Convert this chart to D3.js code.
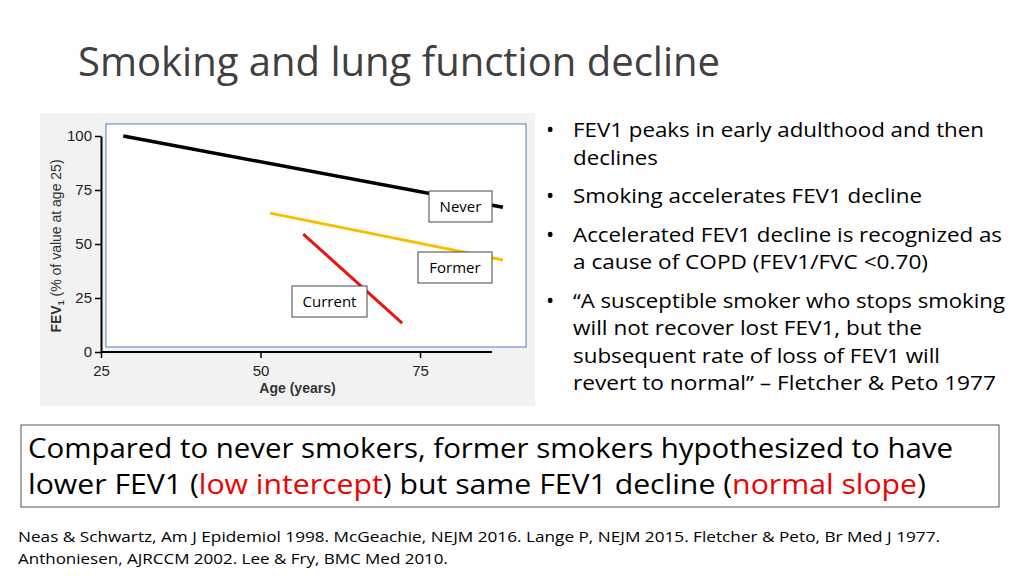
<!DOCTYPE html><html><head><meta charset="utf-8"><script src="https://cdn.jsdelivr.net/npm/d3@7"></script>
<style>body{margin:0;background:#fff}svg{display:block}</style></head><body><svg id="c" width="1024" height="576"></svg>
<script>
const xTicks=[25,50,75];
const yTicks=[0,25,50,75,100];
const neverAge=[28.5,88],neverVal=[100,67];
const formerAge=[51.5,88],formerVal=[64.3,42.6];
const currentAge=[56.7,72.2],currentVal=[54.6,13.4];
const seriesNames=["Never","Former","Current"];
const colors=["#000","#f5c000","#e8140e"];
const bullets=[[["FEV1 peaks in early adulthood and then",411],["declines",85]],[["Smoking accelerates FEV1 decline",349]],[["Accelerated FEV1 decline is recognized as",429],["a cause of COPD (FEV1/FVC <0.70)",355]],[["“A susceptible smoker who stops smoking",432],["will not recover lost FEV1, but the",349],["subsequent rate of loss of FEV1 will",367],["revert to normal” – Fletcher & Peto 1977",423]]];
const svg=d3.select("#c");
const F="Open Sans, Noto Sans, sans-serif";
svg.append("text").attr("x",78).attr("y",76).attr("font-family",F).attr("font-size",40).attr("fill","#404040").text("Smoking and lung function decline");
svg.append("rect").attr("x",40).attr("y",113).attr("width",495).attr("height",293).attr("fill","#f2f2f2");
svg.append("rect").attr("x",106).attr("y",124).attr("width",420).attr("height",223).attr("fill","#fff").attr("stroke","#4a7ebb").attr("stroke-width",1);
const x=d3.scaleLinear().domain([25,75]).range([101,420]);
const y=d3.scaleLinear().domain([0,100]).range([352,136]);
const A="Liberation Sans Narrow, Arial Narrow, Liberation Sans, sans-serif";
const gx=svg.append("g").attr("transform","translate(0,352)").call(d3.axisBottom(x).tickValues(xTicks).tickSize(6).tickSizeOuter(0));
gx.select(".domain").attr("d",`M${x(25)},0H${x(86.3)}`).attr("stroke","#000").attr("stroke-width",2);
const gy=svg.append("g").attr("transform","translate(101,0)").call(d3.axisLeft(y).tickValues(yTicks).tickSize(6).tickSizeOuter(0));
gy.select(".domain").attr("stroke-width",2);
[gx,gy].forEach(g=>{g.selectAll("text").attr("font-family",A).attr("font-size",15).attr("fill","#222");g.selectAll(".tick line").attr("stroke-width",1.5);});
gx.selectAll("text").attr("dy","1.0em");
svg.append("text").attr("x",x(50)+37).attr("y",393).attr("text-anchor","middle").attr("font-family",A).attr("font-weight","bold").attr("font-size",14).attr("fill","#333").text("Age (years)");
svg.append("text").attr("transform","translate(61,246) rotate(-90)").attr("text-anchor","middle").attr("font-family",A).attr("font-size",14).attr("fill","#333").html('<tspan font-weight="bold">FEV<tspan font-size="9" dy="3">1</tspan></tspan><tspan dy="-3"> (% of value at age 25)</tspan>');
const data=[[neverAge,neverVal],[formerAge,formerVal],[currentAge,currentVal]];
const line=d3.line().x(d=>x(d[0])).y(d=>y(d[1]));
data.forEach((s,i)=>svg.append("path").attr("d",line(s[0].map((a,j)=>[a,s[1][j]]))).attr("stroke",colors[i]).attr("stroke-width",i==0?3.5:3).attr("fill","none"));
const boxes=[[429,191,63,31],[418,252,74,31],[292,286,75,31]];
boxes.forEach((b,i)=>{svg.append("rect").attr("x",b[0]).attr("y",b[1]).attr("width",b[2]).attr("height",b[3]).attr("fill","#fff").attr("stroke","#444");
svg.append("text").attr("x",b[0]+b[2]/2).attr("y",b[1]+21).attr("text-anchor","middle").attr("font-family",F).attr("font-size",15).attr("fill","#000").text(seriesNames[i]);});
let yy=137;
bullets.forEach(b=>{svg.append("text").attr("x",546).attr("y",yy).attr("font-family",F).attr("font-size",22).text("•");
b.forEach((l,k)=>{svg.append("text").attr("x",573).attr("y",yy+k*27.5).attr("font-family",F).attr("font-size",20.5).attr("fill","#000").attr("textLength",l[1]).attr("lengthAdjust","spacingAndGlyphs").text(l[0]);});
yy+=b.length*27.5+11;});
svg.append("rect").attr("x",21).attr("y",425).attr("width",978).attr("height",82).attr("fill","none").attr("stroke","#555");
svg.append("text").attr("x",28).attr("y",458).attr("font-family",F).attr("font-size",27).attr("textLength",925).attr("lengthAdjust","spacingAndGlyphs").text("Compared to never smokers, former smokers hypothesized to have");
svg.append("text").attr("x",28).attr("y",494).attr("font-family",F).attr("font-size",27).attr("textLength",898).attr("lengthAdjust","spacingAndGlyphs").html('lower FEV1 (<tspan fill="#e00">low intercept</tspan>) but same FEV1 decline (<tspan fill="#e00">normal slope</tspan>)');
svg.append("text").attr("x",18).attr("y",542).attr("font-family",F).attr("font-size",15).attr("textLength",922).attr("lengthAdjust","spacingAndGlyphs").text("Neas & Schwartz, Am J Epidemiol 1998. McGeachie, NEJM 2016. Lange P, NEJM 2015.   Fletcher & Peto, Br Med J 1977.");
svg.append("text").attr("x",18).attr("y",564).attr("font-family",F).attr("font-size",15).attr("textLength",430).attr("lengthAdjust","spacingAndGlyphs").text("Anthoniesen, AJRCCM 2002. Lee & Fry, BMC Med 2010.");
</script></body></html>
